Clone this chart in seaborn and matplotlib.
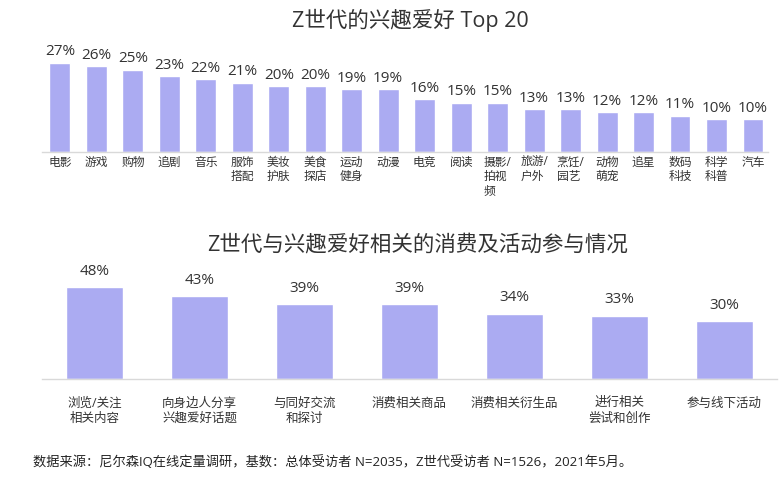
import matplotlib
matplotlib.use("Agg")
import matplotlib.pyplot as plt
import seaborn as sns
import pandas as pd

sns.set_theme(style="white")
plt.rcParams['font.family'] = ['Open Sans', 'Noto Sans CJK SC', 'DejaVu Sans']

# ---- data ----
top_categories = ["电影", "游戏", "购物", "追剧", "音乐", "服饰\n搭配", "美妆\n护肤", "美食\n探店",
                  "运动\n健身", "动漫", "电竞", "阅读", "摄影/\n拍视\n频", "旅游/\n户外", "烹饪/\n园艺",
                  "动物\n萌宠", "追星", "数码\n科技", "科学\n科普", "汽车"]
top_values = [27, 26, 25, 23, 22, 21, 20, 20, 19, 19, 16, 15, 15, 13, 13, 12, 12, 11, 10, 10]

act_categories = ["浏览/关注\n相关内容", "向身边人分享\n兴趣爱好话题", "与同好交流\n和探讨", "消费相关商品",
                  "消费相关衍生品", "进行相关\n尝试和创作", "参与线下活动"]
act_values = [48, 43, 39, 39, 34, 33, 30]

title1 = "Z世代的兴趣爱好 Top 20"
title2 = "Z世代与兴趣爱好相关的消费及活动参与情况"
footnote = "数据来源：尼尔森IQ在线定量调研，基数：总体受访者 N=2035，Z世代受访者 N=1526，2021年5月。"

bar_color = "#ABABF2"
text_color = "#333333"
axis_color = "#D9D9D9"

df1 = pd.DataFrame({"cat": top_categories, "val": top_values})
df2 = pd.DataFrame({"cat": act_categories, "val": act_values})

fig = plt.figure(figsize=(7.8, 5.0), dpi=100)

# top chart
ax1 = fig.add_axes([42/780, 1-152/500, (768-42)/780, 99/500])
sns.barplot(data=df1, x="cat", y="val", color=bar_color, width=0.57, saturation=1, ax=ax1)
ax1.set_ylim(0, 30)
ax1.set_xlim(-0.49, 19.41)
for p, v in zip(ax1.patches, top_values):
    ax1.annotate(f"{v}%", (p.get_x() + p.get_width()/2, p.get_height()),
                 xytext=(0, 2.5), textcoords="offset points", ha="center", va="bottom",
                 fontsize=11, color=text_color)
ax1.set_xlabel("")
ax1.set_ylabel("")
ax1.set_yticks([])
ax1.tick_params(axis="x", length=0, pad=3, labelsize=8.5, labelcolor=text_color)
for lab in ax1.get_xticklabels():
    lab.set_multialignment("left")
    lab.set_linespacing(1.1)
for s in ["top", "right", "left"]:
    ax1.spines[s].set_visible(False)
ax1.spines["bottom"].set_color(axis_color)
ax1.spines["bottom"].set_linewidth(1.0)
ax1.patch.set_alpha(0)

# bottom chart
ax2 = fig.add_axes([42/780, 1-379/500, (777-42)/780, 96/500])
sns.barplot(data=df2, x="cat", y="val", color=bar_color, width=0.55, saturation=1, ax=ax2)
ax2.set_ylim(0, 50)
ax2.set_xlim(-0.5, 6.5)
for p, v in zip(ax2.patches, act_values):
    ax2.annotate(f"{v}%", (p.get_x() + p.get_width()/2, p.get_height()),
                 xytext=(0, 6), textcoords="offset points", ha="center", va="bottom",
                 fontsize=11, color=text_color)
ax2.set_xlabel("")
ax2.set_ylabel("")
ax2.set_yticks([])
ax2.tick_params(axis="x", length=0, pad=12.5, labelsize=9, labelcolor=text_color)
for lab in ax2.get_xticklabels():
    lab.set_multialignment("center")
    lab.set_linespacing(1.25)
for s in ["top", "right", "left"]:
    ax2.spines[s].set_visible(False)
ax2.spines["bottom"].set_color(axis_color)
ax2.spines["bottom"].set_linewidth(1.0)
ax2.patch.set_alpha(0)

fig.text(410/780, 1-20/500, title1, ha="center", va="center", fontsize=15.5, color=text_color)
fig.text(418/780, 1-245/500, title2, ha="center", va="center", fontsize=15.5, color=text_color)
fig.text(33/780, 1-462/500, footnote, ha="left", va="center", fontsize=9.5, color="#222222")

fig.savefig("out.png", dpi=100)
